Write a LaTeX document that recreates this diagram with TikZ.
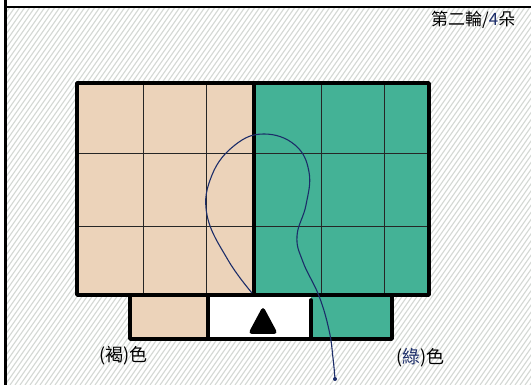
\documentclass[tikz,border=0pt]{standalone}
\usepackage{fontspec}
\newfontfamily\cjk{Noto Sans CJK TC}
\definecolor{tan}{RGB}{236,211,186}
\definecolor{teal}{RGB}{68,178,150}
\definecolor{hatch}{RGB}{212,216,212}
\definecolor{ink}{RGB}{28,45,105}
\begin{document}
\begin{tikzpicture}[x=1pt,y=-1pt,
  thick line/.style={line width=3.6pt,line cap=round,line join=round},
  thin line/.style={line width=0.9pt,black!85},
  hatchline/.style={line width=1.1pt,hatch},
  label/.style={font=\cjk\fontsize{18}{18}\selectfont,inner sep=0pt}]
\useasboundingbox (0,0) rectangle (531,385);
\fill[white] (0,0) rectangle (531,385);
% background pencil hatching
\begin{scope}
\clip (7,9) rectangle (531,385);
\foreach \i in {-300,-295,...,540} \draw[hatchline] (\i,385) -- ++(270,-385);
\end{scope}
% frame lines
\draw[line width=2.6pt] (5.5,0) -- (5.5,385);
\draw[line width=2.6pt] (5.5,7) -- (531,7);
% fills
\fill[tan] (77,83) rectangle (254,295);
\fill[teal] (254,83) rectangle (429,295);
\fill[tan] (130,295) rectangle (208,339);
\fill[white] (208,295) rectangle (311,339);
\fill[teal] (311,295) rectangle (392,339);
% inner grid
\foreach \x in {143,206,321,384} \draw[thin line] (\x,83) -- (\x,295);
\foreach \y in {153,226} \draw[thin line] (77,\y) -- (429,\y);
% thick outlines
\draw[thick line] (77,83) rectangle (429,295);
\draw[thick line] (254,83) -- (254,295);
\draw[thick line] (130,295) -- (130,339) -- (392,339) -- (392,295);
\draw[thick line] (208,295) -- (208,339);
\draw[thick line] (311,300) -- (311,339);
% triangle
\fill[rounded corners=4pt] (263,306) -- (278,334) -- (248,334) -- cycle;
% blue curve
\coordinate (cstart) at (252,293);
\node[circle,fill=ink,inner sep=0pt,minimum size=4pt] (cend) at (335,379) {};
\draw[ink,line width=1.1pt] plot[smooth,tension=0.7] coordinates {(252,293) (228,260) (207,215) (212,175) (235,145) (264,134) (295,145) (309,172) (306,205) (297,236) (303,262) (319,296) (329,330) (333,358) (335,379)};
% labels
\node[label,anchor=west] (brown) at (99,356) {(褐)色};
\node[label,anchor=west] (green) at (396,358) {(\textcolor{ink}{綠})色};
\node[label,anchor=west,font=\cjk\fontsize{17}{17}\selectfont] (title) at (431,20) {第二輪/\textcolor{ink}{4}朵};
\end{tikzpicture}
\end{document}
